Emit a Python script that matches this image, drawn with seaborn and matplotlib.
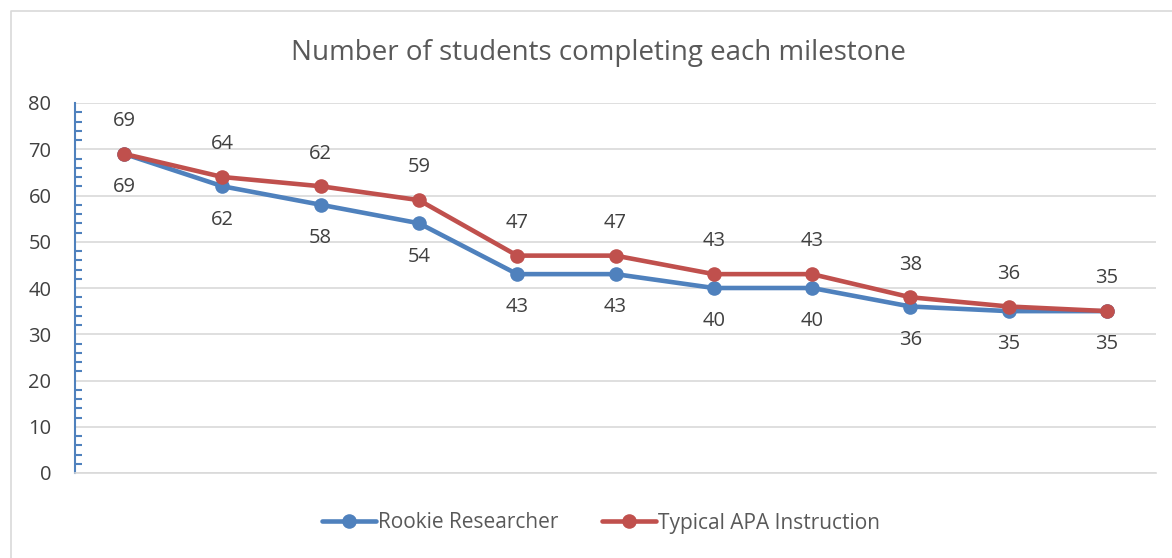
import matplotlib
matplotlib.use("Agg")
import matplotlib.pyplot as plt
import seaborn as sns
import pandas as pd
import numpy as np
from matplotlib.ticker import MultipleLocator
from matplotlib.lines import Line2D

milestones = list(range(1, 12))
rookie = [69, 62, 58, 54, 43, 43, 40, 40, 36, 35, 35]
apa = [69, 64, 62, 59, 47, 47, 43, 43, 38, 36, 35]
series_names = ["Rookie Researcher", "Typical APA Instruction"]
colors = ["#4F81BD", "#C0504D"]
title = "Number of students completing each milestone"

df = pd.DataFrame({
    "milestone": milestones * 2,
    "students": rookie + apa,
    "series": [series_names[0]] * len(rookie) + [series_names[1]] * len(apa),
})

sns.set_theme(style="white")
plt.rcParams["font.family"] = ["Open Sans", "DejaVu Sans"]
text_color = "#595959"
label_color = "#404040"

fig = plt.figure(figsize=(11.72, 5.58), dpi=100)
ax = fig.add_axes([75 / 1172, 1 - 473 / 558, (1156 - 75) / 1172, (473 - 103) / 558])

sns.lineplot(data=df, x="milestone", y="students", hue="series",
             palette=colors, marker="o", markersize=10.5, markeredgewidth=0,
             linewidth=3.3, ax=ax, legend=False, zorder=3)

ax.set_xlim(0.5, 11.5)
ax.set_ylim(0, 80)
ax.yaxis.set_major_locator(MultipleLocator(10))
ax.yaxis.set_minor_locator(MultipleLocator(2))
ax.grid(axis="y", color="#D9D9D9", linewidth=1.2, zorder=0)
ax.set_xticks([])
ax.set_xlabel("")
ax.set_ylabel("")
for s in ["top", "right"]:
    ax.spines[s].set_visible(False)
ax.spines["left"].set_color("#4F81BD")
ax.spines["left"].set_linewidth(1.5)
ax.spines["bottom"].set_color("#D9D9D9")
ax.spines["bottom"].set_linewidth(1.2)
ax.tick_params(axis="y", which="major", direction="in", length=6, width=1.5,
               color="#4F81BD", labelsize=14.5, labelcolor=label_color, pad=17)
ax.tick_params(axis="y", which="minor", direction="in", length=5, width=1.5,
               color="#4F81BD", left=True)

for x, r, a in zip(milestones, rookie, apa):
    ax.annotate(str(r), (x, r), xytext=(0, -24), textcoords="offset points",
                ha="center", va="center", fontsize=14.5, color=label_color)
    ax.annotate(str(a), (x, a), xytext=(0, 23.5), textcoords="offset points",
                ha="center", va="center", fontsize=14.5, color=label_color)

fig.text(598 / 1172, 1 - 53 / 558, title, ha="center", va="center",
         fontsize=20, color=text_color)

handles = [Line2D([], [], color=c, marker="o", markersize=10.5, markeredgewidth=0,
                  linewidth=3.3) for c in colors]
fig.legend(handles, series_names, loc="center", bbox_to_anchor=(601 / 1172, 1 - 523 / 558),
           ncol=2, frameon=False, fontsize=15, labelcolor=text_color,
           handlelength=2.6, handletextpad=0.1, columnspacing=2.1)

fig.add_artist(Line2D([11 / 1172, 11 / 1172, 1.0], [0, 1 - 11 / 558, 1 - 11 / 558],
                      transform=fig.transFigure, color="#D9D9D9", linewidth=1.2))

fig.savefig("out.png", dpi=100, facecolor="white")
